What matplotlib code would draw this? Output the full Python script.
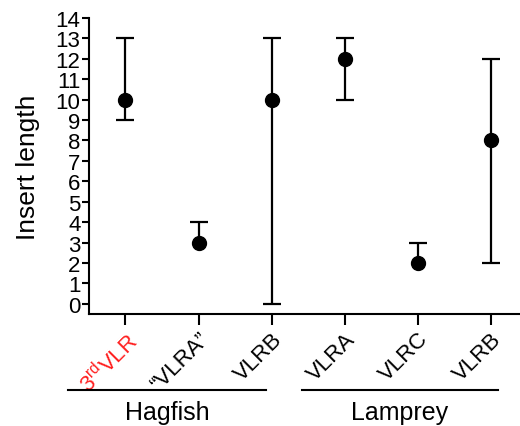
import matplotlib
matplotlib.use("Agg")
import matplotlib.pyplot as plt
import numpy as np

plt.rcParams['font.family'] = ['Liberation Sans', 'DejaVu Sans']
plt.rcParams['mathtext.fontset'] = 'custom'
plt.rcParams['mathtext.rm'] = 'Liberation Sans'
plt.rcParams['mathtext.it'] = 'Liberation Sans'

categories = [r"3$^{\mathrm{rd}}$VLR", "\u201cVLRA\u201d", "VLRB", "VLRA", "VLRC", "VLRB"]
label_colors = ["#ff2020", "black", "black", "black", "black", "black"]
values = [10, 3, 10, 12, 2, 8]
lows = [9, 3, 0, 10, 2, 2]
highs = [13, 4, 13, 13, 3, 12]
groups = ["Hagfish", "Lamprey"]
yticks = list(range(0, 15))

fig = plt.figure(figsize=(5.2, 4.27), dpi=100)
ax = fig.add_axes([0.171, 0.262, 0.827, 0.694])

x = np.arange(len(categories))
vals = np.array(values)
lo = np.array(lows)
hi = np.array(highs)
ax.vlines(x, lo, hi, color='black', lw=1.6)
ax.plot(x, hi, ls='none', marker='_', ms=13, mew=1.6, color='black')
mask = lo < vals
ax.plot(x[mask], lo[mask], ls='none', marker='_', ms=13, mew=1.6, color='black')
ax.plot(x, vals, ls='none', marker='o', ms=10, color='black')

ax.set_xlim(-0.5, 5.38)
ax.set_ylim(-0.5, 14)
ax.set_yticks(yticks)
ax.set_yticklabels([str(t) for t in yticks], fontsize=16)
ax.set_xticks(x)
ax.set_xticklabels(categories, rotation=45, ha='right', rotation_mode='anchor', fontsize=16)
for lbl, c in zip(ax.get_xticklabels(), label_colors):
    lbl.set_color(c)
ax.spines['top'].set_visible(False)
ax.spines['left'].set_linewidth(1.5)
ax.spines['bottom'].set_linewidth(1.5)
ax.spines['right'].set_visible(False)
ax.tick_params(axis='y', length=5, width=1.5, pad=1)
ax.tick_params(axis='x', length=8, width=1.5, pad=2)
ax.set_ylabel("Insert length", fontsize=19, labelpad=11)

# group brackets (figure coords in pixels)
W, H = 520, 427
def fx(px):
    return px / W
def fy(py):
    return 1 - py / H
fig.add_artist(plt.Line2D([fx(68), fx(266)], [fy(391), fy(391)], color='black', lw=1.5))
fig.add_artist(plt.Line2D([fx(302), fx(498)], [fy(391), fy(391)], color='black', lw=1.5))
fig.text(fx(167), fy(413), groups[0], ha='center', va='center', fontsize=18)
fig.text(fx(400), fy(413), groups[1], ha='center', va='center', fontsize=18)

fig.savefig("out.png", dpi=100)
